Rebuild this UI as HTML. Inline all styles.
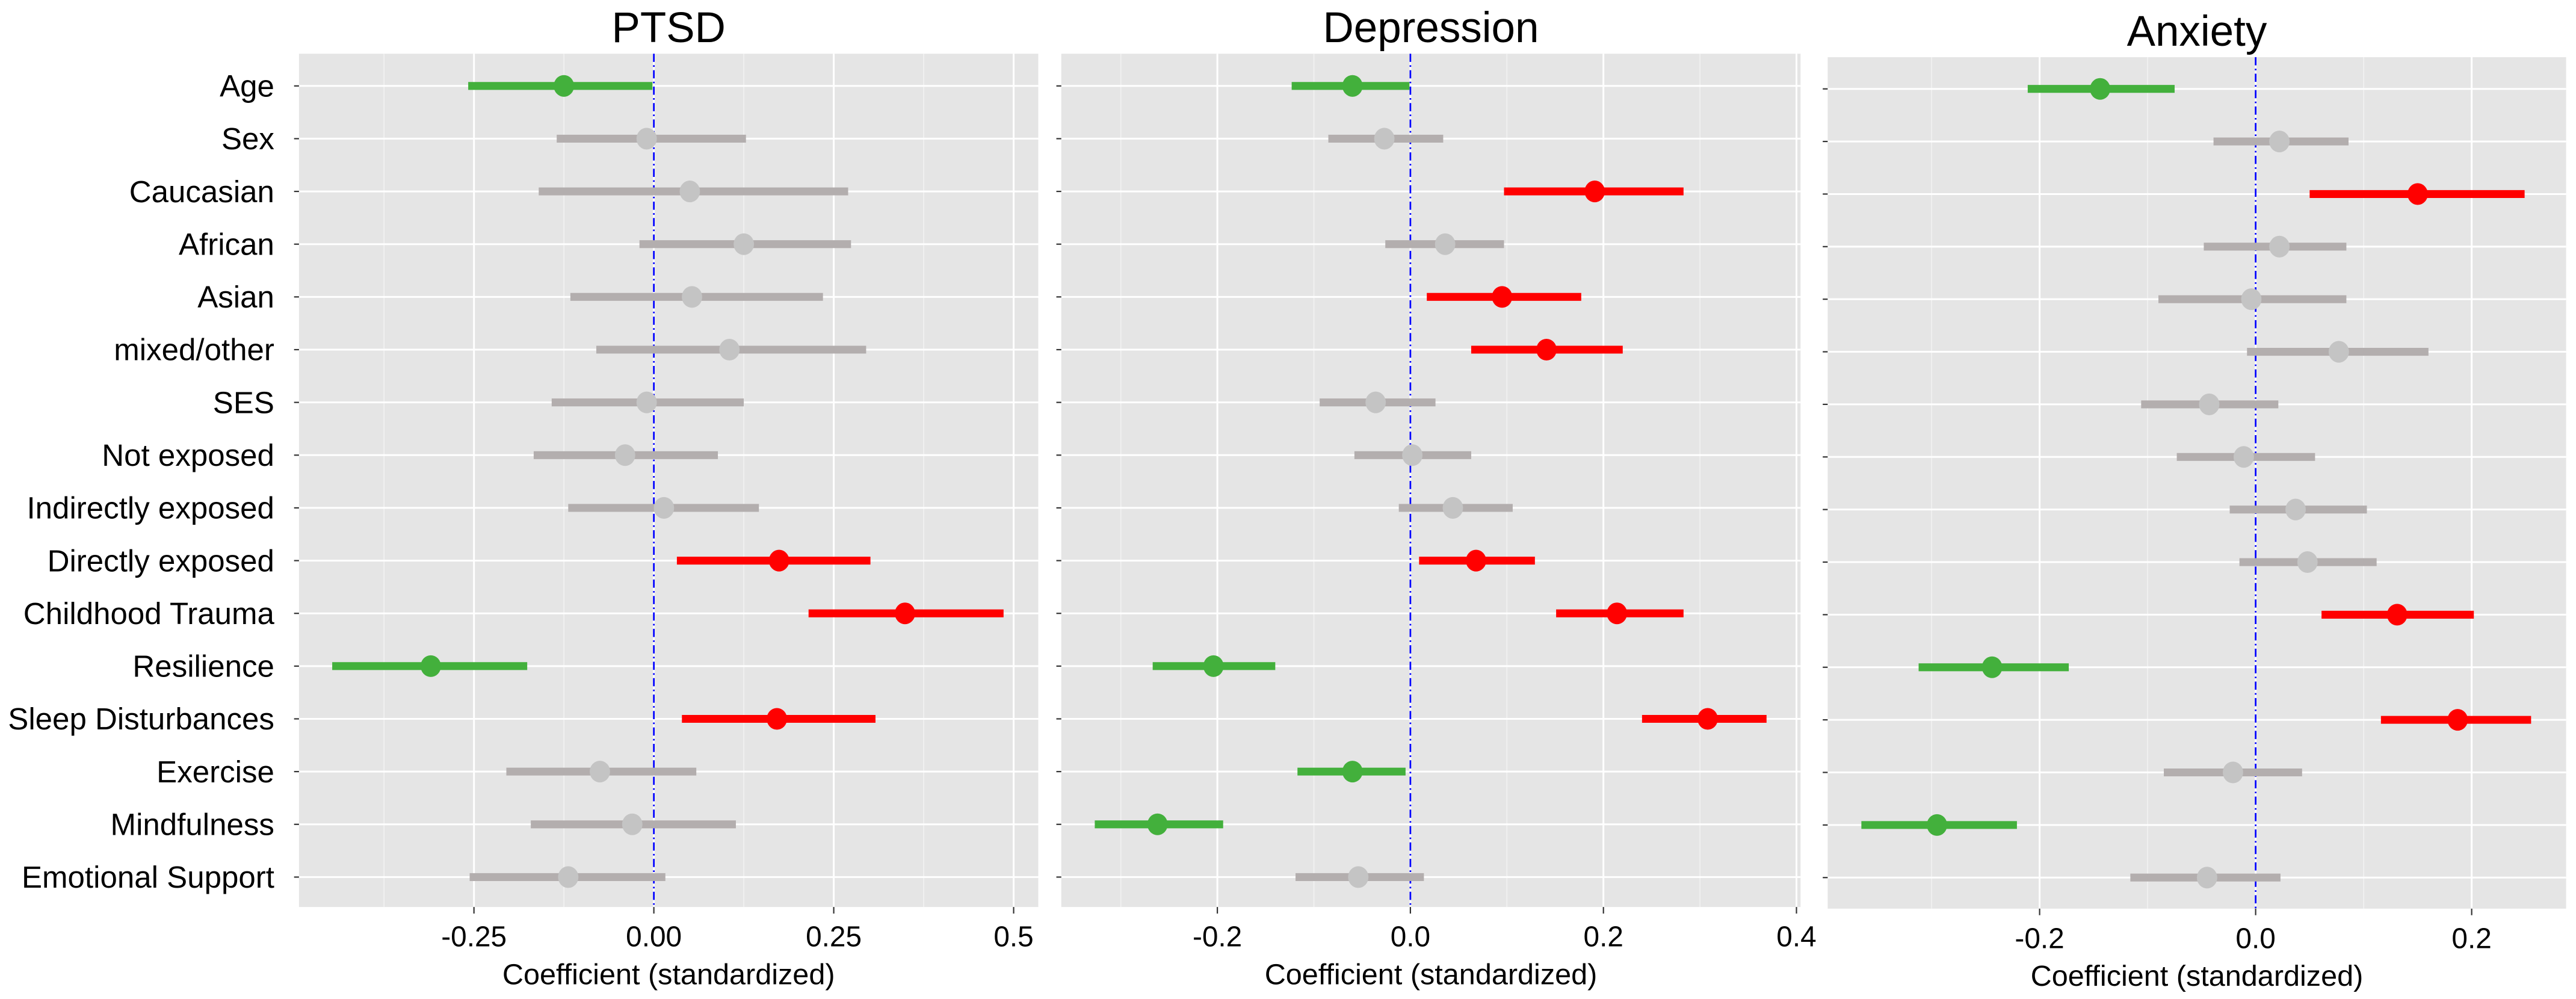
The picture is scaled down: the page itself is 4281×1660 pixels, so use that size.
<!DOCTYPE html>
<html><head><meta charset="utf-8"><style>
html,body{margin:0;padding:0;background:#fff}
svg{display:block;font-family:"Liberation Sans",Arial,sans-serif}
</style></head><body>
<svg id="chart" width="4281" height="1660" viewBox="0 0 1568 608" preserveAspectRatio="none" xmlns="http://www.w3.org/2000/svg"></svg>
<script>
const categories = ["Age","Sex","Caucasian","African","Asian","mixed/other","SES","Not exposed","Indirectly exposed","Directly exposed","Childhood Trauma","Resilience","Sleep Disturbances","Exercise","Mindfulness","Emotional Support"];
const panelTitles = ["PTSD","Depression","Anxiety"];
const ptsdEst = [-0.125,-0.01,0.05,0.125,0.053,0.105,-0.01,-0.04,0.014,0.174,0.349,-0.31,0.171,-0.075,-0.03,-0.119];
const ptsdLo  = [-0.258,-0.135,-0.16,-0.02,-0.116,-0.08,-0.142,-0.167,-0.119,0.032,0.215,-0.447,0.039,-0.205,-0.171,-0.256];
const ptsdHi  = [-0.002,0.128,0.27,0.274,0.235,0.295,0.125,0.089,0.146,0.301,0.486,-0.176,0.308,0.059,0.114,0.016];
const depEst = [-0.06,-0.027,0.191,0.036,0.095,0.141,-0.036,0.002,0.044,0.068,0.214,-0.204,0.308,-0.06,-0.262,-0.054];
const depLo  = [-0.123,-0.085,0.097,-0.026,0.017,0.063,-0.094,-0.058,-0.012,0.009,0.151,-0.267,0.24,-0.117,-0.327,-0.119];
const depHi  = [-0.001,0.034,0.283,0.097,0.177,0.22,0.026,0.063,0.106,0.129,0.283,-0.14,0.369,-0.005,-0.194,0.014];
const anxEst = [-0.144,0.022,0.150,0.022,-0.004,0.077,-0.043,-0.011,0.037,0.048,0.131,-0.244,0.187,-0.021,-0.295,-0.045];
const anxLo  = [-0.211,-0.039,0.05,-0.048,-0.09,-0.008,-0.106,-0.073,-0.024,-0.015,0.061,-0.312,0.116,-0.085,-0.365,-0.116];
const anxHi  = [-0.075,0.086,0.249,0.084,0.084,0.16,0.021,0.055,0.103,0.112,0.202,-0.173,0.255,0.043,-0.221,0.023];
const ptsdTicks = [-0.25,0,0.25,0.5];
const ptsdTickLabels = ["-0.25","0.00","0.25","0.5"];
const depTicks = [-0.2,0,0.2,0.4];
const depTickLabels = ["-0.2","0.0","0.2","0.4"];
const anxTicks = [-0.2,0,0.2];
const anxTickLabels = ["-0.2","0.0","0.2"];

const NS="http://www.w3.org/2000/svg";
const svg=document.getElementById('chart');
function mk(tag,attrs,parent){const e=document.createElementNS(NS,tag);for(const k in attrs)e.setAttribute(k,attrs[k]);(parent||svg).appendChild(e);return e;}

const panels=[
 {key:'ptsd',x0:182,x1:632,y0:32.7,y1:552,zero:398,unit:438,row0:52.3,step:32.1,est:ptsdEst,lo:ptsdLo,hi:ptsdHi,ticks:ptsdTicks,labels:ptsdTickLabels,minor:[-0.375,-0.125,0.125,0.375]},
 {key:'depression',x0:646,x1:1096,y0:32.7,y1:552,zero:858.5,unit:587.5,row0:52.3,step:32.1,est:depEst,lo:depLo,hi:depHi,ticks:depTicks,labels:depTickLabels,minor:[-0.3,-0.1,0.1,0.3]},
 {key:'anxiety',x0:1112.5,x1:1562,y0:34.8,y1:553,zero:1373,unit:657.5,row0:54.1,step:32.0,est:anxEst,lo:anxLo,hi:anxHi,ticks:anxTicks,labels:anxTickLabels,minor:[-0.3,-0.1,0.1,0.3]}
];

panels.forEach((p,pi)=>{
  const xs=v=>p.zero+v*p.unit;
  const ys=i=>p.row0+i*p.step;
  const g=mk('g',{});
  
  
  const bg=mk('rect',{x:p.x0,y:p.y0,width:p.x1-p.x0,height:p.y1-p.y0,fill:'#e5e5e5'},g);
  
  
  p.minor.forEach(v=>{const x=xs(v);if(x>p.x0&&x<p.x1){const l=mk('line',{x1:x,x2:x,y1:p.y0,y2:p.y1,stroke:'#f2f2f2','stroke-width':0.6},g);
    
    }});
  p.ticks.forEach(v=>{const x=xs(v);const l=mk('line',{x1:x,x2:x,y1:p.y0,y2:p.y1,stroke:'#fff','stroke-width':1.1},g);
    
    });
  categories.forEach((c,i)=>{const l=mk('line',{x1:p.x0,x2:p.x1,y1:ys(i),y2:ys(i),stroke:'#fff','stroke-width':1.1},g);
    
    
    const t=mk('line',{x1:p.x0-3,x2:p.x0,y1:ys(i),y2:ys(i),stroke:'#333','stroke-width':0.8},g);
    
    });
  const zl=mk('line',{x1:xs(0),x2:xs(0),y1:p.y0,y2:p.y1,stroke:'#0000ff','stroke-width':1,'stroke-dasharray':'5 2 1 2'},g);
  
  
  categories.forEach((c,i)=>{
    const lo=p.lo[i],hi=p.hi[i],e=p.est[i];
    let bar='#b3aeae',dot='#c4c4c4';
    if(lo>0){bar='#ff0000';dot='#ff0000';} else if(hi<0){bar='#43b03c';dot='#43b03c';}
    const b=mk('line',{x1:xs(lo),x2:xs(hi),y1:ys(i),y2:ys(i),stroke:bar,'stroke-width':4.8},g);
    
    
    const d=mk('ellipse',{cx:xs(e),cy:ys(i),rx:6.2,ry:6.6,fill:dot},g);
    
    
  });
  p.ticks.forEach((v,k)=>{const x=xs(v);
    const t=mk('line',{x1:x,x2:x,y1:p.y1,y2:p.y1+4,stroke:'#333','stroke-width':0.8},g);
    
    
    const tl=mk('text',{x:x,y:p.y1+24,'text-anchor':'middle','font-size':17.5,fill:'#000'},g);
    tl.textContent=p.labels[k];
    
    });
  const xt=mk('text',{x:(p.x0+p.x1)/2,y:p.y1+47,'text-anchor':'middle','font-size':17.8,fill:'#000'},g);
  xt.textContent='Coefficient (standardized)';
  
  
  const tt=mk('text',{x:(p.x0+p.x1)/2,y:p.y0-7,'text-anchor':'middle','font-size':26,fill:'#000'},g);
  tt.textContent=panelTitles[pi];
  
  
});

const p0=panels[0];
categories.forEach((c,i)=>{
  const t=mk('text',{x:167,y:p0.row0+i*p0.step+6.5,'text-anchor':'end','font-size':18.7,fill:'#000'});
  t.textContent=c;
  
  
});
</script>
</body></html>
